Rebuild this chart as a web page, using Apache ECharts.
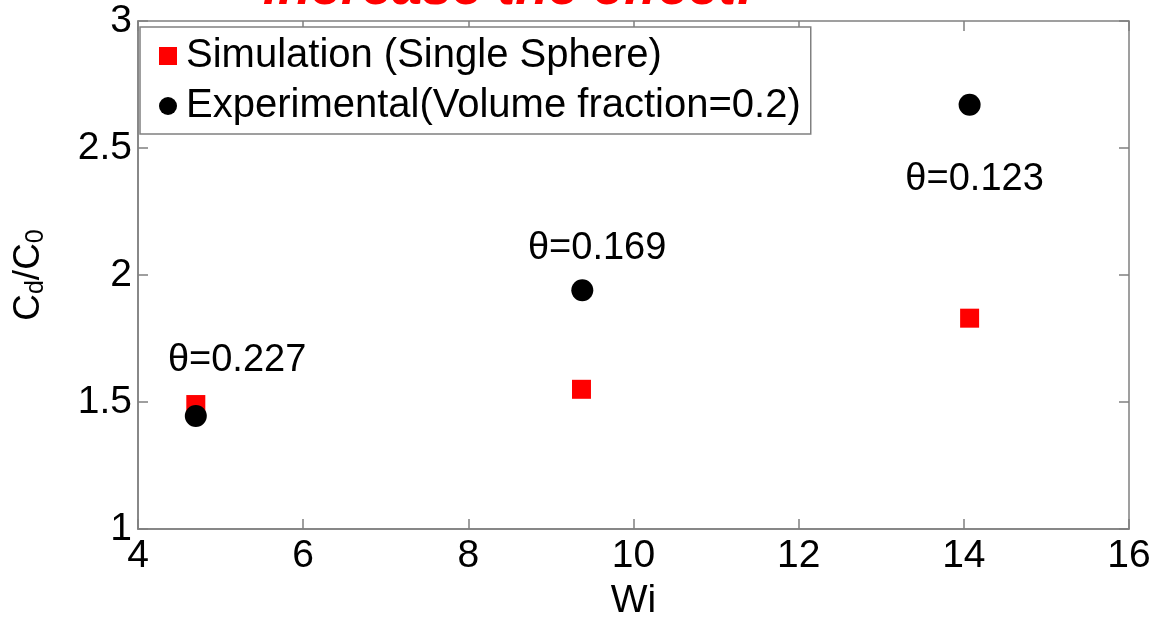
<!DOCTYPE html>
<html><head><meta charset="utf-8">
<script src="https://cdn.jsdelivr.net/npm/echarts@6/dist/echarts.min.js"></script>
<style>html,body{margin:0;padding:0;background:#fff}#c{width:1155px;height:618px}</style>
</head><body><div id="c"></div>
<script>
const wiSim = [4.70, 9.37, 14.07];
const cdSim = [1.49, 1.55, 1.83];
const wiExp = [4.70, 9.38, 14.07];
const cdExp = [1.445, 1.94, 2.67];
const thetaLabels = ['θ=0.227', 'θ=0.169', 'θ=0.123'];
const thetaX = [5.2, 9.56, 14.13];
const thetaY = [1.665, 2.105, 2.375];
const xTicks = [4, 6, 8, 10, 12, 14, 16];
const yTicks = [1, 1.5, 2, 2.5, 3];

const FONT = '"Liberation Sans", Arial, sans-serif';
const FS = 39;
const chart = echarts.init(document.getElementById('c'));
const gray = '#808080';
const tickStyle = {show: true, inside: true, length: 10, lineStyle: {color: gray, width: 1.5}};
chart.setOption({
  animation: false,
  grid: {left: 138, right: 26, top: 21, bottom: 89, show: true, borderColor: gray, borderWidth: 1.5, containLabel: false, outerBoundsMode: 'none'},
  graphic: [{type: 'text', left: 263, top: -38, style: {text: 'increase the effect!', fill: '#ff0000', font: 'italic bold 54px ' + FONT}}],
  legend: {
    left: 140, top: 27, orient: 'vertical', itemGap: 10, padding: [9, 10, 8, 19],
    borderColor: gray, borderWidth: 1.5, backgroundColor: '#fff',
    itemWidth: 18, itemHeight: 18,
    textStyle: {fontFamily: FONT, fontSize: 40, color: '#000', padding: [0, 0, 0, 4]},
    data: [{name: 'Simulation (Single Sphere)', icon: 'rect'}, {name: 'Experimental(Volume fraction=0.2)', icon: 'circle'}]
  },
  xAxis: [{
    type: 'value', min: 4, max: 16, interval: 2,
    name: 'Wi', nameLocation: 'middle', nameGap: 53,
    nameTextStyle: {fontFamily: FONT, fontSize: FS, color: '#000'},
    axisLine: {show: true, lineStyle: {color: gray, width: 1.5}},
    axisTick: tickStyle, splitLine: {show: false},
    axisLabel: {fontFamily: FONT, fontSize: FS, color: '#000', margin: 8, formatter: v => xTicks.includes(v) ? String(v) : ''}
  }, {
    type: 'value', position: 'top', min: 4, max: 16, interval: 2,
    axisLine: {show: false}, axisTick: tickStyle, axisLabel: {show: false}, splitLine: {show: false}
  }],
  yAxis: [{
    type: 'value', min: 1, max: 3, interval: 0.5,
    name: '{n|C}{s|d}{n|/C}{s|0}', nameLocation: 'middle', nameGap: 89,
    nameTextStyle: {rich: {n: {fontFamily: FONT, fontSize: 37, color: '#000'}, s: {fontFamily: FONT, fontSize: 25, color: '#000', verticalAlign: 'bottom', padding: [16, 0, 0, 0]}}},
    axisLine: {show: true, lineStyle: {color: gray, width: 1.5}},
    axisTick: tickStyle, splitLine: {show: false},
    axisLabel: {fontFamily: FONT, fontSize: FS, color: '#000', margin: 6, formatter: v => yTicks.includes(v) ? String(v) : ''}
  }, {
    type: 'value', position: 'right', min: 1, max: 3, interval: 0.5,
    axisLine: {show: false}, axisTick: tickStyle, axisLabel: {show: false}, splitLine: {show: false}
  }],
  series: [
    {name: 'Simulation (Single Sphere)', type: 'scatter', symbol: 'rect', symbolSize: 19, itemStyle: {color: '#ff0000', opacity: 1},
     data: wiSim.map((x, i) => [x, cdSim[i]]), z: 2},
    {name: 'Experimental(Volume fraction=0.2)', type: 'scatter', symbol: 'circle', symbolSize: 22, itemStyle: {color: '#000', opacity: 1},
     data: wiExp.map((x, i) => [x, cdExp[i]]), z: 3},
    {name: 'labels', type: 'scatter', symbolSize: 0, silent: true, itemStyle: {color: '#000', opacity: 1},
     data: thetaX.map((x, i) => ({value: [x, thetaY[i]], label: {show: true, formatter: thetaLabels[i]}})),
     label: {position: 'inside', fontFamily: FONT, fontSize: 38, color: '#000', opacity: 1, textBorderWidth: 0}}
  ]
});
</script></body></html>
